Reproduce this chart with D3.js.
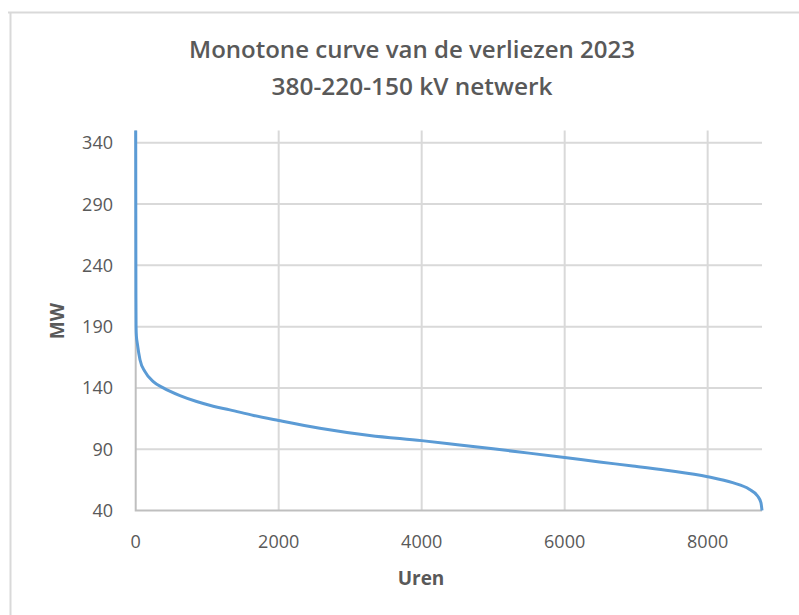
<!DOCTYPE html>
<html lang="nl">
<head>
  <meta charset="UTF-8">
  <title>Monotone curve van de verliezen 2023</title>
  <script src="https://d3js.org/d3.v7.min.js"></script>
  <style>
    body { margin: 0; background: #fff; }
    text { font-family: "Open Sans", "Noto Sans", sans-serif; fill: #595959; }
  </style>
</head>
<body>
  <svg id="chart" width="799" height="615"></svg>

  <script>
    // Data: hours of the year (sorted) and losses in MW
    const hours = [0, 1, 2, 3, 5, 10, 22, 60, 130, 246, 386, 619, 852, 1084, 1317, 1650, 2000,
                   2575, 3273, 4000, 4500, 5000, 5500, 6000, 6487, 6952, 7418,
                   8000, 8349, 8582, 8698, 8745, 8760];
    const mw = [350, 300, 250, 215, 190, 182, 176.5, 163, 153.3, 145.2, 140, 133.7, 128.9, 125.1, 122.1, 117.5, 113.4,
                107.1, 101.2, 97, 93.7, 90.3, 86.8, 83.2, 79.6, 76.3, 72.8,
                67.6, 62.7, 57.3, 51.8, 46.4, 40];

    const xTicks = [0, 2000, 4000, 6000, 8000];
    const yTicks = [40, 90, 140, 190, 240, 290, 340];
    const titleLines = ["Monotone curve van de verliezen 2023", "380-220-150 kV netwerk"];

    const svg = d3.select("#chart");

    // chart frame
    svg.append("path")
      .attr("d", "M8,12.5H799M10.5,12.5V615")
      .attr("fill", "none")
      .attr("stroke", "#d9d9d9")
      .attr("stroke-width", 2);

    const x = d3.scaleLinear().domain([0, 8760]).range([135.7, 762]);
    const y = d3.scaleLinear().domain([40, 350]).range([510.5, 130.5]);

    // gridlines
    svg.append("g")
      .selectAll("line")
      .data(yTicks.filter(d => d > 40))
      .join("line")
      .attr("x1", x(0)).attr("x2", x(8760))
      .attr("y1", d => y(d)).attr("y2", d => y(d))
      .attr("stroke", "#d9d9d9").attr("stroke-width", 2);

    svg.append("g")
      .selectAll("line")
      .data(xTicks.filter(d => d > 0))
      .join("line")
      .attr("x1", d => x(d)).attr("x2", d => x(d))
      .attr("y1", y(350)).attr("y2", y(40))
      .attr("stroke", "#d9d9d9").attr("stroke-width", 2);

    // axis lines
    svg.append("path")
      .attr("d", `M${x(0)},${y(350)}V${y(40)}H${x(8760)}`)
      .attr("fill", "none")
      .attr("stroke", "#bfbfbf")
      .attr("stroke-width", 2);

    // tick labels
    svg.append("g")
      .selectAll("text")
      .data(xTicks)
      .join("text")
      .attr("x", d => x(d))
      .attr("y", 548)
      .attr("text-anchor", "middle")
      .attr("font-size", 18)
      .text(d => d);

    svg.append("g")
      .selectAll("text")
      .data(yTicks)
      .join("text")
      .attr("x", 113)
      .attr("y", d => y(d))
      .attr("dy", "0.36em")
      .attr("text-anchor", "end")
      .attr("font-size", 18)
      .text(d => d);

    // curve
    const line = d3.line()
      .x((d, i) => x(hours[i]))
      .y(d => y(d))
      .curve(d3.curveMonotoneX);

    svg.append("path")
      .datum(mw)
      .attr("d", line)
      .attr("fill", "none")
      .attr("stroke", "#5b9bd5")
      .attr("stroke-width", 3)
      .attr("stroke-linejoin", "round");

    // titles
    svg.append("g")
      .selectAll("text")
      .data(titleLines)
      .join("text")
      .attr("x", 412)
      .attr("y", (d, i) => 58 + i * 37)
      .attr("text-anchor", "middle")
      .attr("font-size", 24)
      .attr("font-weight", 600)
      .attr("textLength", (d, i) => i === 0 ? 446 : 281)
      .attr("lengthAdjust", "spacingAndGlyphs")
      .text(d => d);

    svg.append("text")
      .attr("x", 421)
      .attr("y", 585)
      .attr("text-anchor", "middle")
      .attr("font-size", 19)
      .attr("font-weight", 700)
      .text("Uren");

    svg.append("text")
      .attr("transform", "translate(64,321) rotate(-90)")
      .attr("text-anchor", "middle")
      .attr("font-size", 19)
      .attr("font-weight", 700)
      .text("MW");
  </script>
</body>
</html>
